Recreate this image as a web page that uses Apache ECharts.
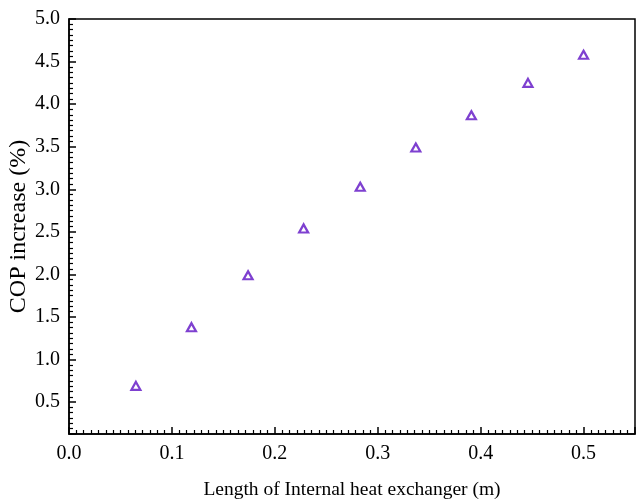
<!DOCTYPE html>
<html>
<head>
<meta charset="utf-8">
<script src="https://cdn.jsdelivr.net/npm/echarts@6/dist/echarts.min.js"></script>
<style>html,body{margin:0;padding:0;background:#fff}#c{width:640px;height:503px}</style>
</head>
<body>
<div id="c"></div>
<script>
var xValues = [0.065, 0.119, 0.174, 0.228, 0.283, 0.337, 0.391, 0.446, 0.500];
var copIncrease = [0.69, 1.38, 1.99, 2.54, 3.03, 3.49, 3.87, 4.25, 4.58];
var xTitle = 'Length of Internal heat exchanger (m)';
var yTitle = 'COP increase (%)';

var points = xValues.map(function (x, i) { return [x, copIncrease[i]]; });
var font = 'Liberation Serif';
var chart = echarts.init(document.getElementById('c'));
chart.setOption({
  animation: false,
  backgroundColor: '#fff',
  grid: {
    left: 69, right: 5, top: 19, bottom: 69,
    containLabel: false, outerBoundsMode: 'none',
    show: true, borderColor: '#000', borderWidth: 1.5, backgroundColor: 'transparent'
  },
  xAxis: {
    type: 'value', min: 0, max: 0.55, interval: 0.1,
    name: xTitle, nameLocation: 'middle', nameGap: 46, nameMoveOverlap: false,
    nameTextStyle: { fontFamily: font, fontSize: 19.5, color: '#000' },
    axisLine: { show: true, lineStyle: { color: '#000', width: 1.5 } },
    axisTick: { show: true, inside: true, length: 7, lineStyle: { color: '#000', width: 1.5 } },
    minorTick: { show: true, splitNumber: 14, length: 4, lineStyle: { color: '#000', width: 1.2 } },
    splitLine: { show: false },
    axisLabel: {
      fontFamily: font, fontSize: 20, color: '#000', margin: 10, showMaxLabel: false,
      formatter: function (v) { return v.toFixed(1); }
    }
  },
  yAxis: {
    type: 'value', min: 0.125, max: 5, splitNumber: 10,
    name: yTitle, nameLocation: 'middle', nameGap: 38, nameMoveOverlap: false,
    nameTextStyle: { fontFamily: font, fontSize: 24, color: '#000' },
    axisLine: { show: true, lineStyle: { color: '#000', width: 1.5 } },
    axisTick: { show: true, inside: true, length: 7, lineStyle: { color: '#000', width: 1.5 } },
    minorTick: { show: true, splitNumber: 8, length: 4, lineStyle: { color: '#000', width: 1.2 } },
    splitLine: { show: false },
    axisLabel: {
      fontFamily: font, fontSize: 20, color: '#000', margin: 9, showMinLabel: false,
      formatter: function (v) { return v.toFixed(1); }
    }
  },
  series: [{
    type: 'scatter',
    data: points,
    symbol: 'triangle',
    symbolSize: [9, 8],
    itemStyle: { color: '#fff', borderColor: '#5e10c4', borderWidth: 2.2 }
  }]
});
</script>
</body>
</html>
